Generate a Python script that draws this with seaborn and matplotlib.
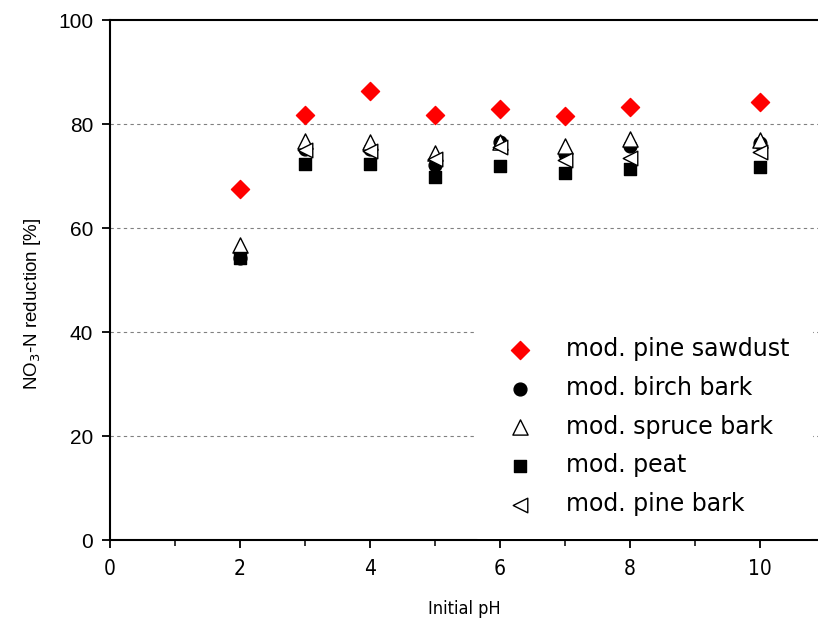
import matplotlib
matplotlib.use('Agg')
import matplotlib.pyplot as plt
import seaborn as sns
import pandas as pd
import numpy as np

# values
ph = [2, 3, 4, 5, 6, 7, 8, 10]
pine_sawdust = [67.5, 81.7, 86.3, 81.7, 82.9, 81.5, 83.2, 84.2]
birch_bark = [54.3, 75.2, 75.2, 72.1, 76.6, 74.2, 75.8, 76.4]
spruce_bark = [56.8, 76.8, 76.6, 74.4, 76.6, 75.8, 77.1, 76.9]
peat = [54.2, 72.4, 72.4, 69.9, 71.9, 70.6, 71.3, 71.7]
pine_bark = [np.nan, 75.0, 74.9, 73.3, 75.5, 73.1, 73.4, 74.7]

series_names = ['mod. pine sawdust', 'mod. birch bark', 'mod. spruce bark',
                'mod. peat', 'mod. pine bark']
series_vals = [pine_sawdust, birch_bark, spruce_bark, peat, pine_bark]

sns.set_style('ticks')
plt.rcParams['font.family'] = ['DejaVu Sans']
plt.rcParams['text.color'] = 'black'
plt.rcParams['axes.labelcolor'] = 'black'

fig = plt.figure(figsize=(8.18, 6.25), dpi=100)
ax = fig.add_axes([0.1345, 0.136, 0.8655, 0.832])

# marker styles: (marker, facecolor, edgecolor, size)
styles = [('D', 'red', 'red', 85),
          ('o', 'black', 'black', 85),
          ('^', 'white', 'black', 120),
          ('s', 'black', 'black', 68),
          ('<', 'white', 'black', 110)]

for name, vals, (mk, fc, ec, s) in zip(series_names, series_vals, styles):
    df = pd.DataFrame({'pH': ph, 'red': vals})
    sns.scatterplot(data=df, x='pH', y='red', ax=ax, marker=mk, color=fc,
                    edgecolor=ec, linewidth=1.0, s=s, label=name, zorder=3)

ax.set_xlim(0, 10.9)
ax.set_ylim(0, 100)
ax.set_xticks([0, 2, 4, 6, 8, 10])
ax.set_xticks([1, 3, 5, 7, 9], minor=True)
ax.set_yticks([0, 20, 40, 60, 80, 100])

for y in [20, 40, 60, 80]:
    ax.axhline(y, color='grey', linestyle=(0, (3, 3)), linewidth=0.8, zorder=1)

for sp in ['left', 'bottom', 'top']:
    ax.spines[sp].set_linewidth(1.5)
    ax.spines[sp].set_color('black')
ax.spines['right'].set_visible(False)

ax.tick_params(axis='both', which='major', direction='out', length=6, width=1.3, colors='black')
ax.tick_params(axis='x', which='minor', direction='out', length=4, width=1.3)
ax.tick_params(axis='y', labelsize=15, pad=6)
for lab in ax.get_yticklabels():
    lab.set_family('Liberation Sans')
ax.tick_params(axis='x', labelsize=15, pad=8)
for lab in ax.get_xticklabels():
    lab.set_family('DejaVu Sans')
    lab.set_stretch('condensed')

ax.set_xlabel('Initial pH', fontsize=13, fontstretch='condensed', labelpad=15)
ax.set_ylabel('NO$_3$-N reduction [%]', fontsize=13.5, family='Liberation Sans')
ax.yaxis.set_label_coords(-0.095, 0.455)

leg = ax.legend(loc='lower right', bbox_to_anchor=(1.0, -0.008), fontsize=17,
                frameon=True, facecolor='white', edgecolor='none', framealpha=1,
                labelspacing=0.62, handlelength=1.8, handletextpad=1.05,
                borderpad=1.0, borderaxespad=0.2)
leg.set_zorder(5)

fig.savefig('out.png', dpi=100)
